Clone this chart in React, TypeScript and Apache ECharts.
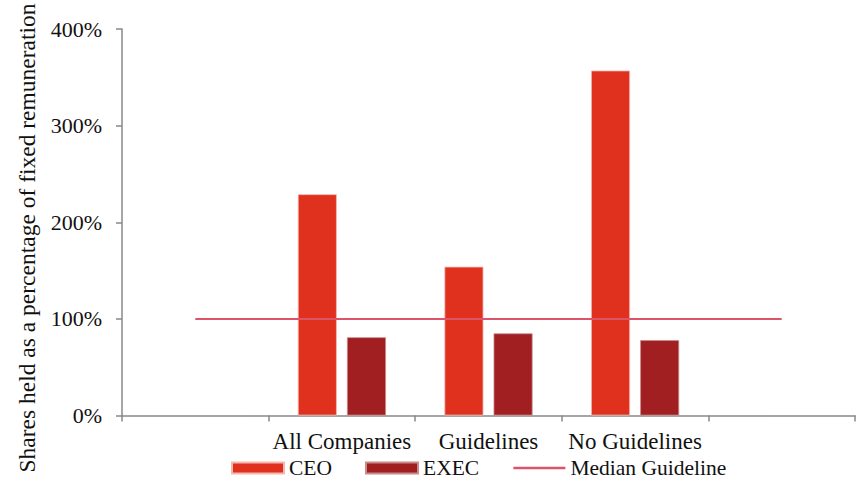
import React, { useEffect, useRef } from "react";
import * as echarts from "echarts";

const categories = ["", "All Companies", "Guidelines", "No Guidelines", ""];
const ceoValues = [null, 229, 154, 357, null];
const execValues = [null, 81, 85, 78, null];
const medianGuideline = [100, 100, 100, 100, 100];
const yTicks = [0, 100, 200, 300, 400];
const yTitle = "Shares held as a percentage of fixed remuneration";

const FONT = "'Liberation Serif', 'DejaVu Serif', serif";

export default function App() {
  const ref = useRef<HTMLDivElement>(null);
  useEffect(() => {
    if (!ref.current) return;
    const chart = echarts.init(ref.current, null, { renderer: "svg" });
    chart.setOption({
      animation: false,
      textStyle: { fontFamily: FONT },
      grid: { left: 122, right: 3, top: 29, bottom: 65.5, containLabel: false },
      graphic: [
        {
          type: "text",
          x: 27,
          y: 238,
          rotation: Math.PI / 2,
          style: {
            text: yTitle,
            fontFamily: FONT,
            fontSize: 23.5,
            fill: "#111",
            align: "center",
            verticalAlign: "middle",
          },
        },
      ],
      legend: {
        top: 457,
        left: 231,
        padding: 0,
        itemWidth: 52,
        itemHeight: 11,
        itemGap: 33,
        textStyle: { fontFamily: FONT, fontSize: 21.5, lineHeight: 20, color: "#111" },
        data: [
          { name: "CEO", icon: "rect" },
          { name: "EXEC", icon: "rect" },
          { name: "Median Guideline", itemStyle: { opacity: 0 }, lineStyle: { width: 2.5 } },
        ],
      },
      xAxis: {
        type: "category",
        data: categories,
        boundaryGap: true,
        axisLine: { lineStyle: { color: "#888", width: 1.5 } },
        axisTick: { show: true, length: 6, lineStyle: { color: "#888", width: 1.5 } },
        axisLabel: {
          color: "#111",
          fontSize: 23,
          fontFamily: FONT,
          margin: 14,
          interval: 0,
          hideOverlap: false,
        },
      },
      yAxis: {
        type: "value",
        min: yTicks[0],
        max: yTicks[yTicks.length - 1],
        interval: 100,
        axisLine: { show: true, lineStyle: { color: "#888", width: 1.5 } },
        axisTick: { show: true, length: 6, lineStyle: { color: "#888", width: 1.5 } },
        splitLine: { show: false },
        axisLabel: {
          color: "#111",
          fontSize: 22,
          fontFamily: FONT,
          margin: 20,
          formatter: (v: number) => v + "%",
        },
      },
      series: [
        {
          name: "CEO",
          type: "bar",
          data: ceoValues,
          barWidth: 39,
          barGap: "26%",
          itemStyle: { color: "#E0311F", borderColor: "#F2B9B0", borderWidth: 0.8 },
        },
        {
          name: "EXEC",
          type: "bar",
          data: execValues,
          barWidth: 39,
          itemStyle: { color: "#A11E21", borderColor: "#C98A8A", borderWidth: 0.8 },
        },
        {
          name: "Median Guideline",
          type: "line",
          data: medianGuideline,
          symbol: "none",
          lineStyle: { color: "#DD5468", width: 2 },
          itemStyle: { color: "#DD5468" },
          z: 5,
        },
      ],
    });
    return () => chart.dispose();
  }, []);
  return <div ref={ref} style={{ width: 858, height: 481, position: "absolute", left: 0, top: 0 }} />;
}
